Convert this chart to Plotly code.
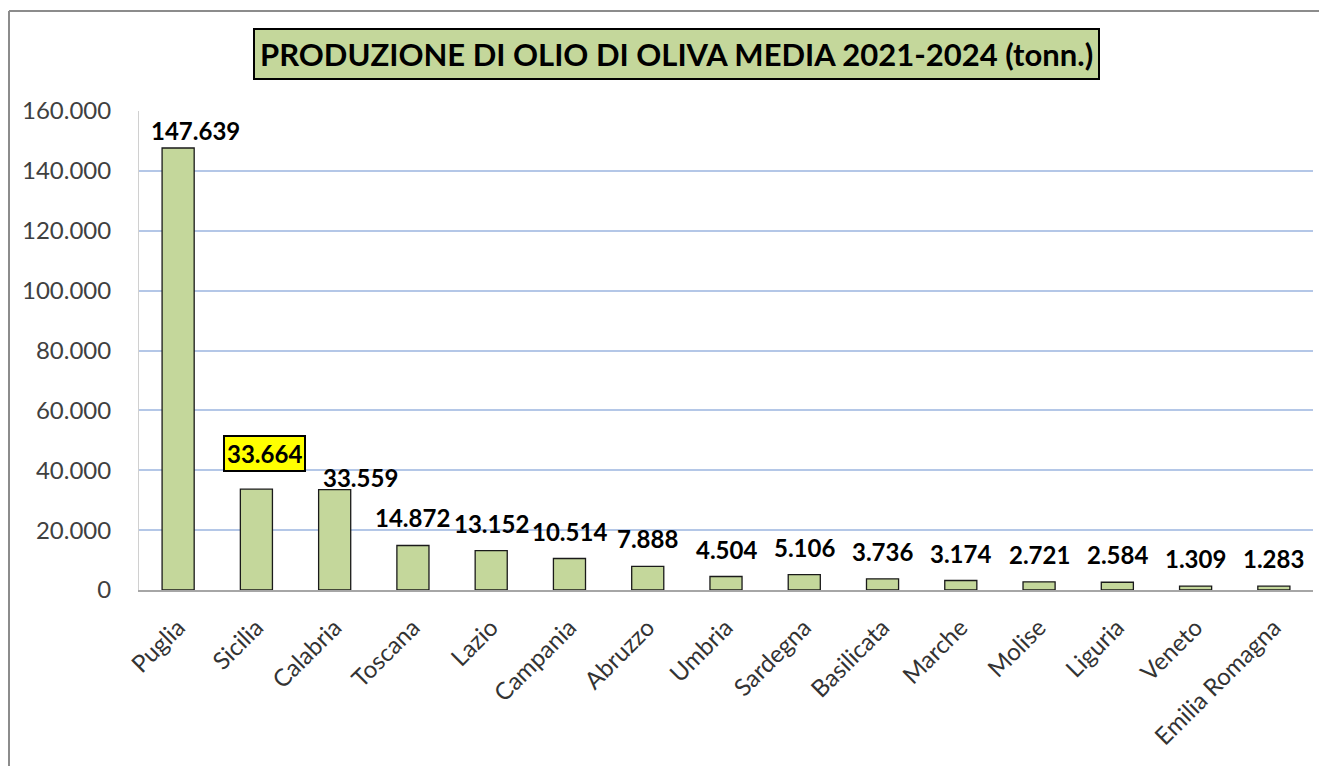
import plotly.graph_objects as go

regions = ["Puglia", "Sicilia", "Calabria", "Toscana", "Lazio", "Campania", "Abruzzo",
           "Umbria", "Sardegna", "Basilicata", "Marche", "Molise", "Liguria", "Veneto",
           "Emilia Romagna"]
production = [147639, 33664, 33559, 14872, 13152, 10514, 7888, 4504, 5106, 3736,
              3174, 2721, 2584, 1309, 1283]
y_ticks = [0, 20000, 40000, 60000, 80000, 100000, 120000, 140000, 160000]
title_text = "PRODUZIONE DI OLIO DI OLIVA MEDIA 2021-2024 (tonn.)"
highlight = "Sicilia"

FONT = "Lato"

def fmt(v):
    return f"{v:,}".replace(",", ".")

fig = go.Figure()
fig.add_trace(go.Bar(
    x=regions, y=production,
    marker=dict(color="#C4D79B", line=dict(color="#1a1a1a", width=1.3)),
    width=0.41, hoverinfo="x+y",
))

annotations = []
for r, v in zip(regions, production):
    if r == highlight:
        annotations.append(dict(x=r, y=v, text=f"<b>{fmt(v)}</b>", showarrow=False,
                                yanchor="bottom", yshift=17, xshift=8,
                                font=dict(family=FONT, size=24, color="black"),
                                bgcolor="#FFFF00", bordercolor="black", borderwidth=2,
                                borderpad=2))
    else:
        xs = 0
        ys = 11
        if r == "Puglia":
            xs, ys = 17, 1
        elif r == "Calabria":
            xs, ys = 26, -4
        annotations.append(dict(x=r, y=v, text=f"<b>{fmt(v)}</b>", showarrow=False,
                                yanchor="bottom", yshift=ys, xshift=xs,
                                font=dict(family=FONT, size=24, color="black")))

# page body has an 8px margin: figure pixel = window pixel - 8
OFF = 8
W, H = 1327 - OFF, 766 - OFF
L, R, T, B = 139 - OFF, 14, 111 - OFF, 176
pw, ph = W - L - R, H - T - B
def px_x(px):
    return (px - OFF - L) / pw
def px_y(py):
    return (H - B - (py - OFF)) / ph

annotations.append(dict(x=px_x(676), xref="paper", y=px_y(54), yref="paper",
                        text=f"<b>{title_text}</b>", showarrow=False,
                        xanchor="center", yanchor="middle",
                        font=dict(family=FONT, size=31, color="black"),
                        bgcolor="#C4D79B", bordercolor="black", borderwidth=2,
                        borderpad=5))

shapes = [
    dict(type="line", xref="paper", yref="paper", x0=px_x(9), x1=px_x(9),
         y0=px_y(11), y1=px_y(780), line=dict(color="#8c8c8c", width=2)),
    dict(type="line", xref="paper", yref="paper", x0=px_x(9), x1=px_x(1340),
         y0=px_y(11), y1=px_y(11), line=dict(color="#8c8c8c", width=2)),
]

fig.update_layout(
    width=W, height=H,
    margin=dict(l=L, r=R, t=T, b=B),
    paper_bgcolor="white", plot_bgcolor="white",
    separators=",.",
    showlegend=False,
    bargap=0.59,
    annotations=annotations,
    shapes=shapes,
    xaxis=dict(
        tickangle=-45, showgrid=False,
        showline=True, linecolor="#A6A6A6", linewidth=2,
        tickfont=dict(family=FONT, size=24, color="#333333"),
        ticks="", ticklabelstandoff=12,
    ),
    yaxis=dict(
        range=[0, 160000], tickvals=y_ticks, tickformat=",d",
        showgrid=True, gridcolor="#B4C7E7", gridwidth=2,
        showline=True, linecolor="#D0D0D0", linewidth=1,
        zeroline=False,
        tickfont=dict(family=FONT, size=24, color="#404040"),
        ticks="", ticklabelstandoff=22,
    ),
)

fig.write_html("out.html")
